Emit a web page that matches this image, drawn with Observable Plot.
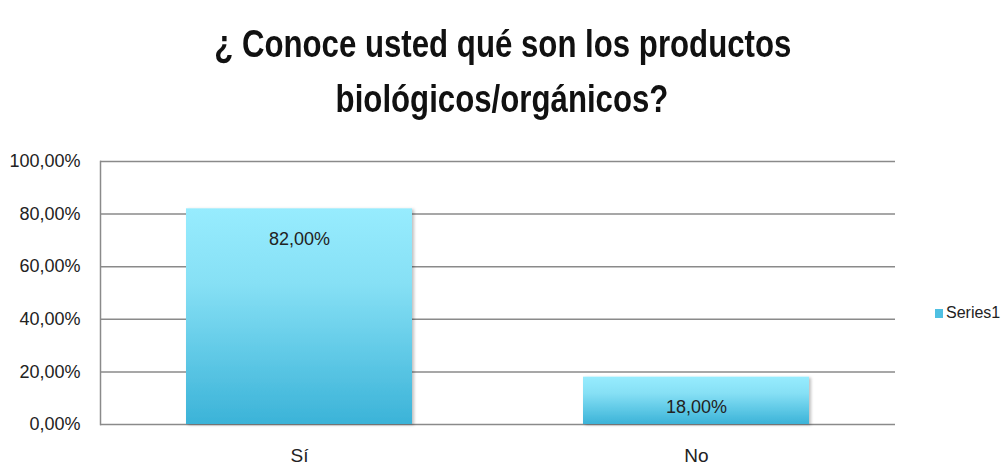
<!DOCTYPE html>
<html>
<head>
<meta charset="utf-8">
<script src="https://cdn.jsdelivr.net/npm/d3@7"></script>
<script src="https://cdn.jsdelivr.net/npm/@observablehq/plot@0.6"></script>
<style>
  body { margin: 0; background: #fff; width: 1005px; height: 472px; position: relative; overflow: hidden; }
  #title { height: 140px; width: 1005px; text-align: center; font-family: "Liberation Sans", sans-serif; font-weight: bold; font-size: 39px; line-height: 55px; color: #111; padding-top: 16px; box-sizing: border-box; }
  #title span { display: inline-block; transform: scaleX(0.8); transform-origin: center; white-space: nowrap; }
  #legend { position: absolute; left: 935px; top: 304px; font-family: "Liberation Sans", sans-serif; font-size: 16px; color: #222; display: flex; align-items: center; }
  #legend .sw { width: 8px; height: 9px; background: #4fc0e2; margin-right: 3px; }
</style>
</head>
<body>
<div id="title"><span>¿ Conoce usted qué son los productos</span><br><span>biológicos/orgánicos?</span></div>
<div id="chart"></div>
<div id="legend"><span class="sw"></span><span id="legtext"></span></div>
<script>
const categories = ["Sí", "No"];
const values = [0.82, 0.18];
const yTicks = [0, 0.2, 0.4, 0.6, 0.8, 1];
const seriesName = "Series1";

const data = categories.map((c, i) => ({cat: c, value: values[i]}));
const fmt = d => (d * 100).toFixed(2).replace(".", ",") + "%";

const chart = Plot.plot({
  width: 1005,
  height: 332,
  marginTop: 21,
  marginBottom: 48,
  marginLeft: 100,
  marginRight: 110,
  style: {fontFamily: "'Liberation Sans', sans-serif", color: "#222", background: "#fff"},
  x: {domain: categories, paddingInner: 0.43, paddingOuter: 0.215, label: null},
  y: {domain: [0, 1], label: null},
  marks: [
    Plot.gridY(yTicks, {stroke: "#8a8a8a", strokeOpacity: 1, strokeWidth: 1.5}),
    Plot.frame({anchor: "left", stroke: "#8a8a8a", strokeWidth: 1.5}),
    Plot.barY(data, {x: "cat", y: "value", fill: "#5bc8e6"}),
    Plot.text(data, {x: "cat", y: "value", text: d => fmt(d.value), dy: 30, fontSize: 18, fill: "#222"}),
    Plot.axisY(yTicks, {tickSize: 0, tickPadding: 20, tickFormat: fmt, fontSize: 18, label: null}),
    Plot.axisX({tickSize: 0, tickPadding: 24, fontSize: 19, label: null})
  ]
});

// gradient fill + soft shadow for bars
const svg = d3.select(chart);
const defs = svg.insert("defs", ":first-child");
const grad = defs.append("linearGradient").attr("id", "barGrad").attr("x1", 0).attr("y1", 0).attr("x2", 0).attr("y2", 1);
grad.append("stop").attr("offset", "0%").attr("stop-color", "#97ecfe");
grad.append("stop").attr("offset", "35%").attr("stop-color", "#86e0f5");
grad.append("stop").attr("offset", "100%").attr("stop-color", "#3bb3d8");
const filt = defs.append("filter").attr("id", "shadow").attr("x", "-10%").attr("y", "-10%").attr("width", "130%").attr("height", "130%");
filt.append("feDropShadow").attr("dx", 2).attr("dy", 1).attr("stdDeviation", 1.5).attr("flood-color", "#000").attr("flood-opacity", 0.25);
svg.selectAll('g[aria-label="bar"] rect').attr("fill", "url(#barGrad)").attr("filter", "url(#shadow)");

document.getElementById("chart").appendChild(chart);
document.getElementById("legtext").textContent = seriesName;
</script>
</body>
</html>
